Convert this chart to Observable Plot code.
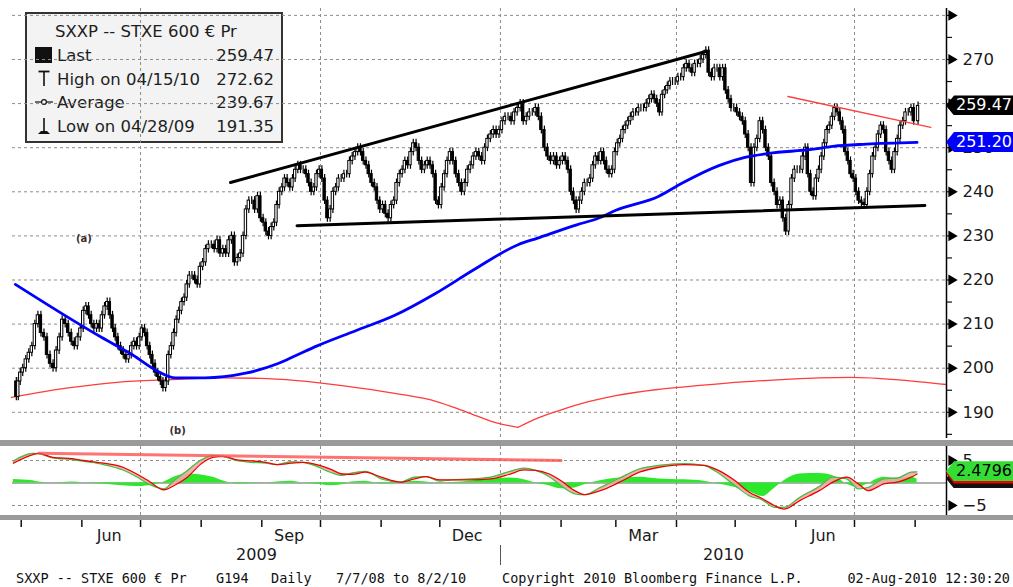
<!DOCTYPE html>
<html>
<head>
<meta charset="utf-8">
<script src="https://cdn.jsdelivr.net/npm/d3@7"></script>
<script src="https://cdn.jsdelivr.net/npm/@observablehq/plot@0.6"></script>
<style>
html,body{margin:0;padding:0;background:#fff;}
#wrap{position:relative;width:1013px;height:587px;overflow:hidden;background:#fff;font-family:"DejaVu Sans",Verdana,sans-serif;}
#wrap > *{position:absolute;}
.band{left:0;width:1013px;background:#9a9a9a;}
.foot{font-family:"DejaVu Sans Mono",monospace;font-size:13.5px;color:#111;top:570px;line-height:16px;white-space:pre;}
.tag{height:20px;line-height:20px;font-family:"DejaVu Sans",sans-serif;font-size:16px;padding-left:10px;box-sizing:border-box;white-space:pre;overflow:hidden;
  clip-path:polygon(0 50%, 8px 0, 100% 0, 100% 100%, 8px 100%);}
</style>
</head>
<body>
<div id="wrap"></div>
<script>
// ---------- DATA ----------
// Daily closes of SXXP, grouped by month
const apr09 = [193.5, 197, 199];
const may09 = [200, 202, 203.5, 205, 210, 212, 208, 207, 203, 201, 200, 204, 207, 211, 210, 208, 206, 205, 207, 209];
const jun09 = [213, 214, 212, 210, 209, 210, 209, 212, 214, 215, 212, 209, 207, 205, 204, 203, 202, 203, 205, 206, 205, 207];
const jul09 = [209, 208, 205, 203, 201, 199, 198, 197, 195.5, 197, 203, 205, 208, 211, 213, 215, 216, 219, 221, 221, 220, 219, 223];
const aug09 = [224, 227, 228, 228, 227, 229, 226, 227, 226, 229, 230, 224, 225, 226, 230, 236, 238, 238, 236, 239, 234];
const sep09 = [233, 231, 230, 232, 233, 237, 240, 241, 243, 242, 241, 243, 245, 246, 245, 245, 244, 242, 240, 241, 244, 245];
const oct09 = [243, 238, 234, 236, 240, 241, 243, 243, 244, 244, 247, 248, 249, 250, 249, 247, 246, 244, 242, 241, 238, 236];
const nov09 = [237, 235, 234, 237, 238, 242, 244, 245, 247, 246, 249, 251, 250, 247, 245, 246, 247, 246, 244, 238, 237];
const dec09 = [241, 244, 247, 249, 247, 244, 242, 240, 242, 245, 246, 248, 249, 248, 247, 250, 252, 253, 254, 253, 254];
const jan10 = [256, 257, 257, 256, 258, 259, 260, 256, 257, 258, 258, 259, 257, 254, 250, 248, 247, 248, 246, 247];
const feb10 = [248, 247, 245, 240, 238, 236, 238, 240, 242, 242, 243, 246, 248, 247, 249, 247, 245, 244, 245, 249];
const mar10 = [251, 252, 254, 255, 256, 257, 258, 258, 259, 259, 259, 260, 261, 262, 261, 260, 258, 262, 263, 264, 265, 265, 265];
const apr10 = [266, 266, 268, 269, 268, 267, 269, 269, 270, 271, 272, 267, 266, 268, 268, 266, 268, 263, 261, 259, 259];
const may10 = [258, 257, 256, 253, 250, 242, 250, 252, 256, 254, 250, 248, 242, 240, 237, 238, 234, 231, 237, 243, 245];
const jun10 = [245, 245, 248, 250, 244, 240, 239, 243, 245, 248, 251, 254, 255, 257, 259, 258, 256, 254, 249, 247, 244, 243];
const jul10 = [240, 238, 237.5, 237, 240, 244, 248, 250, 253, 255, 254, 249, 247, 245, 249, 252, 255, 256, 258, 258, 259, 256];
const aug10 = [259.47];
const firstOpen = 197;
const wick = 0.9;

const monthBlocks = [
  ["2009-04-28","2009-05-01",apr09],["2009-05-01","2009-06-01",may09],["2009-06-01","2009-07-01",jun09],
  ["2009-07-01","2009-08-01",jul09],["2009-08-01","2009-09-01",aug09],["2009-09-01","2009-10-01",sep09],
  ["2009-10-01","2009-11-01",oct09],["2009-11-01","2009-12-01",nov09],["2009-12-01","2010-01-01",dec09],
  ["2010-01-01","2010-02-01",jan10],["2010-02-01","2010-03-01",feb10],["2010-03-01","2010-04-01",mar10],
  ["2010-04-01","2010-05-01",apr10],["2010-05-01","2010-06-01",may10],["2010-06-01","2010-07-01",jun10],
  ["2010-07-01","2010-08-01",jul10],["2010-08-02","2010-08-03",aug10]
];

// moving average (blue)
const maDates = ["2009-04-28","2009-05-21","2009-06-11","2009-06-27","2009-07-09","2009-07-19","2009-08-03","2009-08-23","2009-09-09","2009-09-19","2009-09-29","2009-10-19","2009-11-08","2009-11-29","2009-12-19","2010-01-10","2010-01-20","2010-02-09","2010-02-20","2010-03-01","2010-03-23","2010-04-04","2010-04-23","2010-05-06","2010-05-18","2010-06-09","2010-06-20","2010-07-07","2010-08-02"];
const maValues = [219, 212.6, 207, 203, 199.5, 197.8, 197.8, 198.8, 201, 203, 205, 208.5, 212, 217, 222.5, 228, 229.5, 232.5, 234, 235.8, 239, 242, 246, 247.8, 248.7, 249.6, 250.3, 250.8, 251.2];

// red cycle curve (two arcs meeting in a cusp)
const cycleLeftDates = ["2009-04-26","2009-05-26","2009-06-19","2009-07-16","2009-08-10","2009-08-31","2009-09-19","2009-10-13","2009-11-08","2009-11-29","2009-12-15","2009-12-30","2010-01-10"];
const cycleLeftValues = [193.4, 195.6, 196.8, 197.4, 197.8, 197.7, 197.2, 196, 194.3, 192.5, 190, 187.6, 186.6];
const cycleRightDates = ["2010-01-10","2010-01-20","2010-01-31","2010-02-15","2010-03-01","2010-03-23","2010-04-13","2010-05-05","2010-05-25","2010-06-13","2010-06-29","2010-07-25","2010-08-17"];
const cycleRightValues = [186.6, 188.7, 190.4, 192.4, 193.8, 195.2, 196.1, 196.9, 197.4, 197.8, 197.9, 197.3, 196.3];

// trend lines
const upperTrend = [["2009-08-16",242.1],["2010-04-16",271.8]];
const lowerTrend = [["2009-09-19",232.3],["2010-08-06",236.9]];
const redTrend = [["2010-05-28",261.6],["2010-08-09",254.6]];
const notes = [["2009-06-02",229.4,"(a)"],["2009-07-20",185.9,"(b)"]];

// price axis ticks
const majorTicks = [190,200,210,220,230,240,250,260,270,280];
const minorTicks = [185,195,205,215,225,235,245,255,265,275];
const lastPrice = 259.47, lastAverage = 251.20;

// lower oscillator panel
const oscDates = ["2009-04-27","2009-05-07","2009-05-10","2009-05-17","2009-05-27","2009-06-02","2009-06-12","2009-06-22","2009-06-29","2009-07-05","2009-07-13","2009-07-18","2009-07-25","2009-08-01","2009-08-07","2009-08-12","2009-08-20","2009-08-27","2009-09-03","2009-09-09","2009-09-16","2009-09-22","2009-09-29","2009-10-06","2009-10-12","2009-10-17","2009-10-24","2009-11-01","2009-11-11","2009-11-18","2009-11-24","2009-12-01","2009-12-07","2009-12-17","2009-12-27","2010-01-06","2010-01-13","2010-01-19","2010-01-26","2010-02-01","2010-02-08","2010-02-13","2010-02-21","2010-03-03","2010-03-13","2010-03-23","2010-04-05","2010-04-15","2010-04-21","2010-05-01","2010-05-08","2010-05-15","2010-05-21","2010-05-26","2010-06-03","2010-06-13","2010-06-20","2010-06-27","2010-07-03","2010-07-08","2010-07-16","2010-07-23","2010-07-30","2010-08-02"];
const signalValues = [4.4,6.3,6.6,5.7,5.4,5.0,4.4,3.5,2.0,0.5,-1.5,-0.6,1.3,4.3,5.7,5.9,5.1,4.9,4.6,4.1,4.4,4.6,4.1,3.1,2.0,1.9,2.4,1.3,0.2,0.9,1.4,0.7,0.7,0.7,0.9,2.0,2.9,2.8,2.0,0.5,-1.7,-2.6,-1.7,0.2,2.4,3.5,4.1,3.9,3.1,0.5,-2.0,-3.5,-5.0,-5.8,-3.9,-1.7,0.2,1.3,-0.2,-1.7,-0.2,0.2,1.3,2.0];
const macdValues = [4.9,6.6,6.5,5.6,5.2,4.8,4.1,2.9,1.4,-0.2,-1.3,0.5,2.8,5.1,6.1,5.9,4.9,4.6,4.4,4.1,4.7,4.6,3.7,2.4,1.7,2.2,2.6,0.9,0.2,1.3,1.4,0.4,0.7,0.9,1.3,2.6,3.3,2.8,1.4,-0.6,-2.4,-2.6,-1.0,1.1,3.1,3.9,4.3,3.9,2.6,-0.6,-2.8,-3.8,-5.4,-5.4,-3.2,-0.8,1.3,0.9,-1.3,-1.0,0.9,1.1,2.4,2.48];
const histValues = [0.8,0.5,0.2,0,0.2,0,-0.2,-0.6,-0.8,-0.6,0.2,1.3,2.0,1.8,1.3,0.5,-0.2,-0.1,0,0.2,0.4,0,-0.2,-0.6,-0.4,0.2,0.4,-0.2,0,0.4,0.2,-0.1,0.1,0.4,0.9,1.1,0.7,0,-0.6,-1.3,-1.1,-0.4,0.5,1.1,1.3,0.9,0.7,0.4,-0.1,-1.0,-1.9,-3.0,-1.2,0.5,2.0,2.1,1.6,-0.2,-1.0,-0.1,1.3,1.1,1.3,0.9];
const oscTrend = [["2009-05-10",6.6],["2010-02-01",5.0]];
const oscTicks = [5,-5];
const lastMacd = "2.4796";

// legend texts
const legendTitle = "SXXP -- STXE 600 € Pr";
const legendRows = [["Last","259.47","last"],["High on 04/15/10","272.62","high"],["Average","239.67","avg"],["Low on 04/28/09","191.35","low"]];
const footer = [["SXXP -- STXE 600 € Pr",16],["G194",216],["Daily",271],["7/7/08 to 8/2/10",336],["Copyright 2010 Bloomberg Finance L.P.",502]];
const footerRight = "02-Aug-2010 12:30:20";

// ---------- BUILD ----------
const D = s => new Date(s);
const DAY = 864e5;
const xDomain = [new Date(Date.UTC(2009,3,26,13)), new Date(Date.UTC(2010,7,17,1))];
const quarterStarts = ["2009-07-01","2009-10-01","2010-01-01","2010-04-01","2010-07-01"].map(D);

const candles = [];
let prev = firstOpen;
for (const [s, e, vals] of monthBlocks) {
  const t0 = +D(s), t1 = +D(e), step = (t1 - t0) / vals.length;
  vals.forEach((c, i) => {
    const t = t0 + (i + 0.5) * step, o = prev;
    candles.push({t: new Date(t), a: new Date(t - 0.6*DAY), b: new Date(t + 0.6*DAY), o, c,
      hi: Math.max(o, c) + wick, lo: Math.min(o, c) - wick});
    prev = c;
  });
}
const ma = maDates.map((d, i) => ({t: D(d), v: maValues[i]}));
const cycL = cycleLeftDates.map((d, i) => ({t: D(d), v: cycleLeftValues[i]}));
const cycR = cycleRightDates.map((d, i) => ({t: D(d), v: cycleRightValues[i]}));
const toPts = arr => arr.map(([d, v]) => ({t: D(d), v}));
const osc = oscDates.map((d, i) => ({t: D(d), sig: signalValues[i], macd: macdValues[i], hist: histValues[i]}));

const dotted = {stroke: "#8c8c8c", strokeDasharray: "3,3", strokeWidth: 1};
const wrap = document.getElementById("wrap");

// legend (drawn behind the chart so the grid shows through)
const leg = d3.create("svg").attr("width", 300).attr("height", 150).style("left","0px").style("top","0px");
leg.append("rect").attr("x",26).attr("y",13).attr("width",256).attr("height",129).attr("fill","#f3f3f3").attr("stroke","#333").attr("stroke-width",2);
const lt = leg.append("g").attr("font-family","DejaVu Sans, sans-serif").attr("font-size",16.5).attr("fill","#1e1e1e");
lt.append("text").attr("x",55).attr("y",31).attr("dy","0.36em").text(legendTitle);
const rowY = [55, 79, 102, 126];
legendRows.forEach(([label, value, sym], i) => {
  const y = rowY[i];
  lt.append("text").attr("x",57).attr("y",y).attr("dy","0.36em").text(label);
  lt.append("text").attr("x",274).attr("y",y).attr("dy","0.36em").attr("text-anchor","end").text(value);
  const g = leg.append("g").attr("stroke","#111").attr("fill","#111");
  if (sym === "last") g.append("rect").attr("x",35).attr("y",y-8).attr("width",17).attr("height",16).attr("stroke","none");
  if (sym === "high") { g.append("line").attr("x1",44).attr("x2",44).attr("y1",y-8).attr("y2",y+7).attr("stroke-width",1.6);
    g.append("line").attr("x1",38.5).attr("x2",49.5).attr("y1",y-7.5).attr("y2",y-7.5).attr("stroke-width",1.8); }
  if (sym === "avg") { g.append("line").attr("x1",35).attr("x2",53).attr("y1",y).attr("y2",y).attr("stroke-width",1.2);
    g.append("circle").attr("cx",44).attr("cy",y).attr("r",2.4).attr("fill","#fff").attr("stroke-width",1.2); }
  if (sym === "low") { g.append("line").attr("x1",44).attr("x2",44).attr("y1",y-8).attr("y2",y+5).attr("stroke-width",1.6);
    g.append("path").attr("d",`M38,${y+8} L50,${y+8} L47,${y+5} L41,${y+5} Z`).attr("stroke","none"); }
});
wrap.append(leg.node());

// main price panel
const main = Plot.plot({
  width: 1013, height: 440, marginLeft: 12, marginRight: 67, marginTop: 8, marginBottom: 2,
  x: {type: "utc", domain: xDomain, axis: null},
  y: {domain: [184.06, 281.56], axis: null},
  style: {background: "transparent", overflow: "visible", fontFamily: "DejaVu Sans, sans-serif", color: "#111"},
  marks: [
    Plot.ruleY(majorTicks, dotted),
    Plot.ruleX(quarterStarts, dotted),
    Plot.line(cycL, {x: "t", y: "v", stroke: "#ff3b3b", strokeWidth: 1.3, curve: "monotone-x"}),
    Plot.line(cycR, {x: "t", y: "v", stroke: "#ff3b3b", strokeWidth: 1.3, curve: "monotone-x"}),
    Plot.ruleX(candles, {x: "t", y1: "lo", y2: "hi", stroke: "#000", strokeWidth: 1.2}),
    Plot.rect(candles, {x1: "a", x2: "b", y1: "o", y2: "c", fill: d => d.c >= d.o ? "#fff" : "#000", stroke: "#000", strokeWidth: 1}),
    Plot.line(ma, {x: "t", y: "v", stroke: "#0000ff", strokeWidth: 2.8, curve: "monotone-x"}),
    Plot.line(toPts(upperTrend), {x: "t", y: "v", stroke: "#000", strokeWidth: 3}),
    Plot.line(toPts(lowerTrend), {x: "t", y: "v", stroke: "#000", strokeWidth: 3}),
    Plot.line(toPts(redTrend), {x: "t", y: "v", stroke: "#ff4040", strokeWidth: 1.4}),
    Plot.text(notes, {x: d => D(d[0]), y: d => d[1], text: d => d[2], fontSize: 10, fontWeight: "bold", fill: "#3b2f2f"}),
    Plot.ruleX([xDomain[1]], {stroke: "#000", strokeWidth: 1.5}),
    Plot.axisY(minorTicks.concat(majorTicks), {anchor: "right", tickSize: 5, tickFormat: () => "", label: null, strokeWidth: 1.2}),
    Plot.axisY(majorTicks, {anchor: "right", tickSize: 0, tickPadding: 16, tickFormat: d => d === 280 ? "" : String(d), fontSize: 16.5, label: null, fill: "#1a1a1a"}),
    Plot.dot(majorTicks, {y: d => d, frameAnchor: "right", symbol: "triangle", rotate: 90, r: 4, fill: "#000", dx: 5})
  ]
});
main.style.left = "0px"; main.style.top = "0px";
wrap.append(main);

// lower oscillator panel + time axis
const monthStarts = d3.utcMonth.range(new Date(Date.UTC(2009,4,1)), new Date(Date.UTC(2010,7,2)));
const labelMonths = ["2009-06-15","2009-09-15","2009-12-15","2010-03-15","2010-06-15"].map(D);
const jan2010 = D("2010-01-01");
const yearMids = [new Date((+xDomain[0] + +jan2010)/2), new Date((+jan2010 + +xDomain[1])/2)];

const lower = Plot.plot({
  width: 1013, height: 147, marginLeft: 12, marginRight: 67, marginTop: 6, marginBottom: 67,
  x: {type: "utc", domain: xDomain},
  y: {domain: [-8.33, 8.11]},
  style: {background: "transparent", overflow: "visible", fontFamily: "DejaVu Sans, sans-serif", color: "#111"},
  marks: [
    Plot.ruleY(oscTicks, dotted),
    Plot.ruleY([0], {stroke: "#b0b0b0", strokeWidth: 2}),
    Plot.ruleX(quarterStarts, dotted),
    Plot.areaY(osc, {x: "t", y: "hist", fill: "#2be82b", curve: "monotone-x"}),
    Plot.areaY(osc, {x: "t", y1: "sig", y2: "macd", fill: "#f4a9a9", fillOpacity: 0.9, curve: "monotone-x"}),
    Plot.line(osc, {x: "t", y: "macd", stroke: "#3fbf3f", strokeWidth: 1.2, curve: "monotone-x"}),
    Plot.line(osc, {x: "t", y: "sig", stroke: "#ee0000", strokeWidth: 1.3, curve: "monotone-x"}),
    Plot.line(toPts(oscTrend), {x: "t", y: "v", stroke: "#ff5050", strokeOpacity: 0.8, strokeWidth: 3}),
    Plot.ruleX([xDomain[1]], {stroke: "#000", strokeWidth: 1.5}),
    Plot.axisY(oscTicks, {anchor: "right", tickSize: 0, tickPadding: 16, fontSize: 16.5, label: null, fill: "#1a1a1a"}),
    Plot.dot(oscTicks, {y: d => d, frameAnchor: "right", symbol: "triangle", rotate: 90, r: 4, fill: "#000", dx: 5}),
    Plot.axisX(monthStarts, {anchor: "bottom", tickSize: 7, tickFormat: () => "", label: null, strokeWidth: 1.5}),
    Plot.axisX(labelMonths, {anchor: "bottom", tickSize: 0, tickPadding: 9, tickFormat: d3.utcFormat("%b"), fontSize: 16, label: null, fill: "#1a1a1a"}),
    Plot.axisX(yearMids, {anchor: "bottom", tickSize: 0, tickPadding: 28, tickFormat: d3.utcFormat("%Y"), fontSize: 16, label: null, fill: "#1a1a1a"})
  ]
});
lower.style.left = "0px"; lower.style.top = "440px";
wrap.append(lower);
const mx = main.scale("x"), my = main.scale("y");
const lx = lower.scale("x"), ly = lower.scale("y");
const axisPx = mx.apply(xDomain[1]);
const sep = document.createElement("div");
sep.style.cssText = `left:${lx.apply(jan2010)}px;top:545px;width:1px;height:20px;background:#555;`;
wrap.append(sep);

// value tags on the right axis (HTML boxes positioned with the Plot scales)
function tag(yPx, text, bg, color) {
  const t = document.createElement("div");
  t.className = "tag"; t.textContent = text;
  t.style.left = axisPx + "px"; t.style.top = (yPx - 10) + "px";
  t.style.width = (1013 - axisPx) + "px"; t.style.background = bg; t.style.color = color;
  wrap.append(t);
}
tag(my.apply(lastAverage), lastAverage.toFixed(2), "#0000ff", "#fff");
tag(my.apply(lastPrice), lastPrice.toFixed(2), "#000", "#fff");
tag(440 + ly.apply(histValues[histValues.length-1]), "", "#111", "#000");
tag(440 + ly.apply(signalValues[signalValues.length-1]), "", "#ee0000", "#000");
tag(440 + ly.apply(+lastMacd), lastMacd, "#33dd33", "#000");

// grey separator bands
for (const [top, h] of [[440, 6], [515, 5]]) {
  const b = document.createElement("div"); b.className = "band";
  b.style.top = top + "px"; b.style.height = h + "px"; wrap.append(b);
}
// footer
for (const [txt, left] of footer) {
  const s = document.createElement("div"); s.className = "foot"; s.textContent = txt; s.style.left = left + "px"; wrap.append(s);
}
const fr = document.createElement("div"); fr.className = "foot"; fr.textContent = footerRight; fr.style.right = "3px"; wrap.append(fr);
</script>
</body>
</html>
